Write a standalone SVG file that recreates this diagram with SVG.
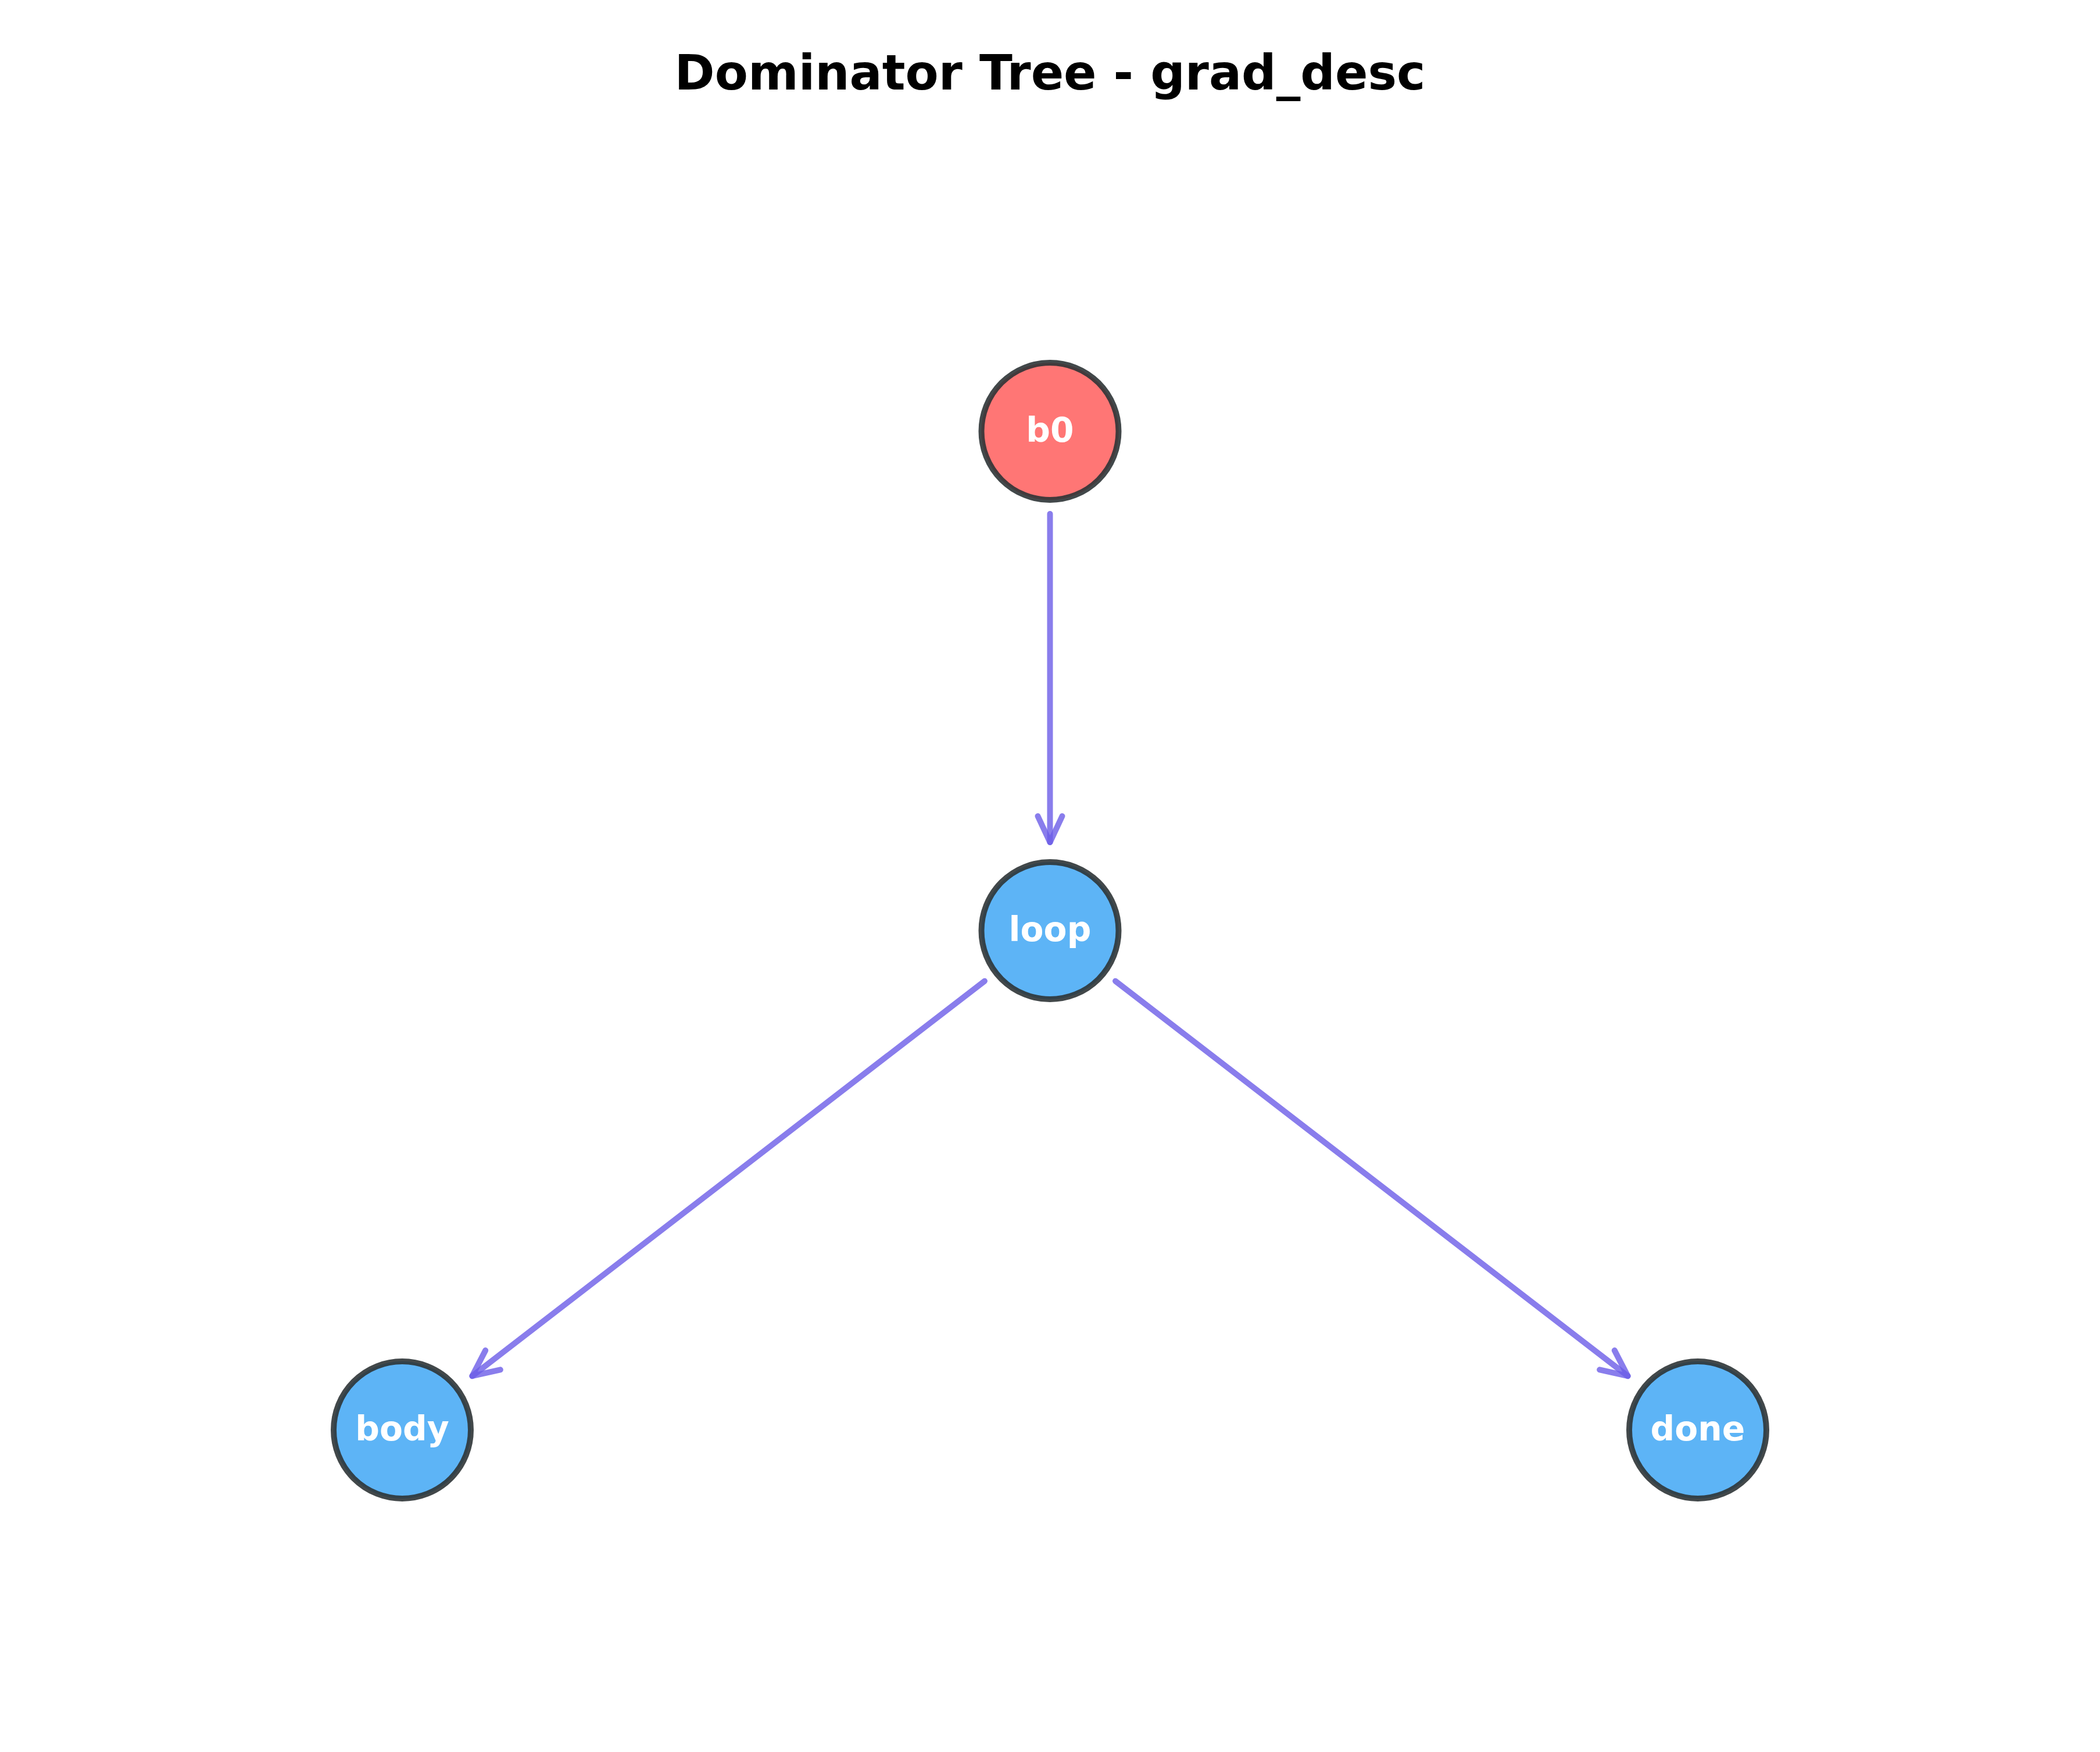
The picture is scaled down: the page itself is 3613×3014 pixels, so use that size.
<svg xmlns="http://www.w3.org/2000/svg" width="3613" height="3014" viewBox="0 0 3613 3014">
<style>
.title{font-family:"DejaVu Sans","Liberation Sans",sans-serif;font-weight:bold;font-size:83.3px;fill:#000;text-anchor:middle}
.node circle{stroke:#2D3436;stroke-opacity:0.9;stroke-width:10}
.node text{font-family:"DejaVu Sans","Liberation Sans",sans-serif;font-weight:bold;font-size:58.3px;fill:#fff;text-anchor:middle}
.entry circle{fill:#FF7675}
.block circle{fill:#5DB4F6}
.edge{fill:none;stroke:#6C5CE7;stroke-opacity:0.8;stroke-width:10;stroke-linecap:round}
.head{fill:none;stroke:#6C5CE7;stroke-opacity:0.8;stroke-width:10;stroke-linecap:round;stroke-linejoin:round}
</style>
<defs>
<marker id="arr" markerUnits="userSpaceOnUse" orient="auto" refX="0" refY="0" markerWidth="10" markerHeight="10" overflow="visible">
<path class="head" d="M-45,-21 L0,0 L-45,21"/>
</marker>
</defs>
<rect width="3613" height="3014" fill="#fff"/>
<text class="title" x="1806.5" y="154">Dominator Tree - grad_desc</text>
<g id="connectors">
<line class="edge" x1="1806.5" y1="884" x2="1806.5" y2="1449" marker-end="url(#arr)"/>
<line class="edge" x1="1694" y1="1687.7" x2="812.4" y2="2367.2" marker-end="url(#arr)"/>
<line class="edge" x1="1919" y1="1687.7" x2="2800.6" y2="2367.2" marker-end="url(#arr)"/>
</g>
<g id="node-b0" class="node entry">
<circle cx="1806.5" cy="742" r="118"/>
<text x="1806.5" y="759.5">b0</text>
</g>
<g id="node-loop" class="node block">
<circle cx="1806.5" cy="1601" r="118"/>
<text x="1806.5" y="1618.5">loop</text>
</g>
<g id="node-body" class="node block">
<circle cx="692" cy="2460" r="118"/>
<text x="692" y="2477.5">body</text>
</g>
<g id="node-done" class="node block">
<circle cx="2921" cy="2460" r="118"/>
<text x="2921" y="2477.5">done</text>
</g>
</svg>
